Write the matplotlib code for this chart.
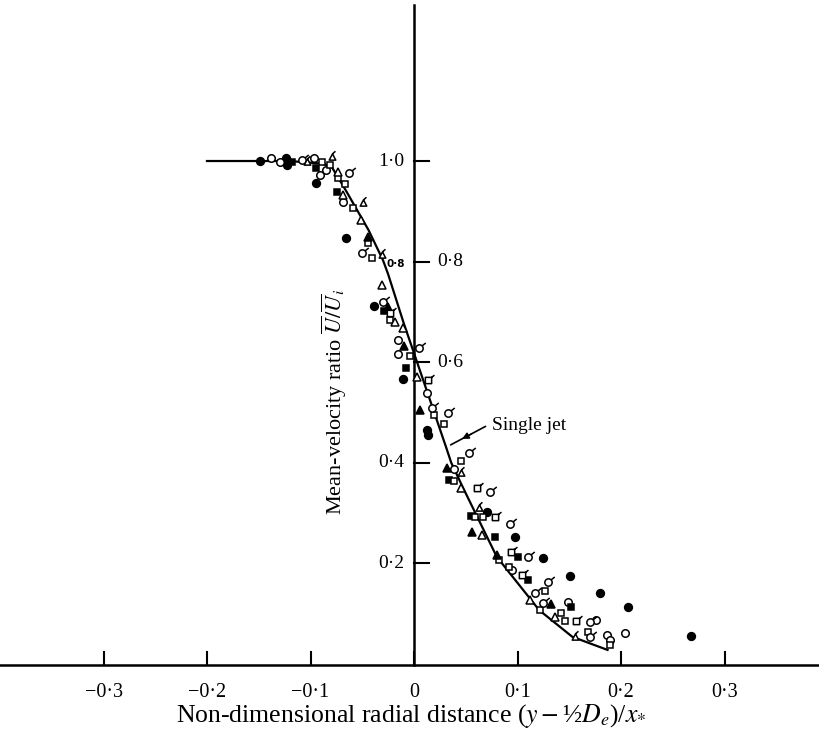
import matplotlib
matplotlib.use("Agg")
import matplotlib.pyplot as plt
import numpy as np
from matplotlib.path import Path

plt.rcParams['font.family'] = ['Liberation Serif', 'DejaVu Serif']
plt.rcParams['mathtext.fontset'] = 'stix'

# solid curve: single jet
curve_x = [-0.20, -0.16, -0.12, -0.09, -0.08, -0.066, -0.044, -0.030, -0.025, -0.010,
           0.0, 0.031, 0.036, 0.047, 0.080, 0.121, 0.153, 0.187]
curve_u = [1.0, 1.0, 1.0, 0.995, 0.99, 0.942, 0.863, 0.803, 0.775, 0.678,
           0.618, 0.431, 0.400, 0.352, 0.213, 0.107, 0.054, 0.028]

# measured points, one pair of lists per symbol
fcirc_x = [-0.149, -0.124, -0.123, -0.095, -0.066, -0.039, -0.011, 0.013, 0.014,
           0.071, 0.098, 0.125, 0.151, 0.180, 0.207, 0.268]
fcirc_u = [1.000, 1.006, 0.992, 0.956, 0.847, 0.712, 0.567, 0.465, 0.455,
           0.302, 0.252, 0.211, 0.175, 0.141, 0.113, 0.056]

ocirc_x = [-0.138, -0.129, -0.097, -0.091, -0.085, -0.069, -0.015, -0.015, 0.013,
           0.039, 0.095, 0.149, 0.176, 0.186, 0.189, 0.204]
ocirc_u = [1.006, 0.998, 1.006, 0.972, 0.982, 0.918, 0.644, 0.616, 0.539,
           0.388, 0.187, 0.123, 0.087, 0.058, 0.048, 0.062]

fsq_x = [-0.118, -0.095, -0.074, -0.029, -0.008, 0.034, 0.055, 0.078, 0.100, 0.110, 0.152]
fsq_u = [0.998, 0.986, 0.938, 0.702, 0.588, 0.366, 0.294, 0.252, 0.213, 0.167, 0.113]

osq_x = [-0.089, -0.081, -0.073, -0.067, -0.059, -0.044, -0.041, -0.023, -0.004,
         0.019, 0.029, 0.045, 0.039, 0.059, 0.067, 0.082, 0.092, 0.127, 0.142,
         0.146, 0.168, 0.189, 0.122]
osq_u = [0.998, 0.992, 0.966, 0.954, 0.906, 0.837, 0.807, 0.684, 0.612,
         0.495, 0.477, 0.404, 0.364, 0.292, 0.292, 0.207, 0.193, 0.145, 0.101,
         0.085, 0.064, 0.038, 0.107]

ftri_x = [-0.044, -0.025, -0.010, 0.006, 0.032, 0.056, 0.080, 0.132]
ftri_u = [0.849, 0.710, 0.632, 0.505, 0.390, 0.262, 0.217, 0.119]

otri_x = [-0.073, -0.069, -0.051, -0.031, -0.018, -0.011, 0.003, 0.045, 0.066, 0.136, 0.112]
otri_u = [0.978, 0.932, 0.883, 0.753, 0.680, 0.668, 0.571, 0.350, 0.256, 0.093, 0.127]

flcirc_x = [-0.108, -0.063, -0.050, -0.030, 0.005, 0.017, 0.033, 0.053, 0.073,
            0.093, 0.110, 0.129, 0.125, 0.170, 0.170, 0.117]
flcirc_u = [1.002, 0.976, 0.817, 0.720, 0.628, 0.509, 0.499, 0.419, 0.342,
            0.278, 0.213, 0.163, 0.121, 0.083, 0.054, 0.141]

flsq_x = [0.061, 0.078, 0.094, 0.014, -0.023, 0.157, 0.104]
flsq_u = [0.350, 0.292, 0.223, 0.565, 0.698, 0.085, 0.177]

fltri_x = [-0.103, -0.079, -0.049, -0.031, 0.045, 0.063, 0.156]
fltri_u = [0.998, 1.008, 0.916, 0.813, 0.380, 0.310, 0.054]

xticks = [-0.3, -0.2, -0.1, 0.0, 0.1, 0.2, 0.3]
xtick_labels = ['\u22120\u00b73', '\u22120\u00b72', '\u22120\u00b71', '0',
                '0\u00b71', '0\u00b72', '0\u00b73']
yticks = [1.0, 0.8, 0.6, 0.4, 0.2]
ytick_labels = ['1\u00b70', '0\u00b78', '0\u00b76', '0\u00b74', '0\u00b72']
ytick_side = ['left', 'right', 'right', 'left', 'left']


def flagged(base, start, end):
    """Marker made of a closed shape plus a short tail stroke."""
    tail = Path([start, end], [Path.MOVETO, Path.LINETO])
    return Path.make_compound_path(base, tail)


circ_path = Path.unit_circle()
sq_path = Path([(-1, -1), (1, -1), (1, 1), (-1, 1), (-1, -1)],
               [Path.MOVETO, Path.LINETO, Path.LINETO, Path.LINETO, Path.CLOSEPOLY])
tri_path = Path([(0, 1.1), (-1, -0.8), (1, -0.8), (0, 1.1)],
                [Path.MOVETO, Path.LINETO, Path.LINETO, Path.CLOSEPOLY])
flag_circ = flagged(circ_path, (0.7, 0.7), (1.7, 1.5))
flag_sq = flagged(sq_path, (1, 1), (1.9, 1.7))
flag_tri = flagged(tri_path, (0, 1.1), (0.9, 1.9))

fig = plt.figure(figsize=(8.19, 7.31), dpi=100)
ax = fig.add_axes([0, 0, 1, 1])
ax.set_xlim(-0.400, 0.3913)
ax.set_ylim(-0.1332, 1.3201)
ax.set_axis_off()

# axes drawn through the origin
ax.plot([-0.400, 0.3913], [-0.002, -0.002], color='black', lw=1.8, zorder=1)
ax.plot([0, 0], [-0.002, 1.310], color='black', lw=1.8, zorder=1)
for t in xticks:
    ax.plot([t, t], [0, 0.024], color='black', lw=1.5, zorder=1)
for t in yticks:
    ax.plot([0, 0.0145], [t, t], color='black', lw=1.5, zorder=1)

for t, lab in zip(xticks, xtick_labels):
    ax.text(t, -0.057, lab, ha='center', va='center', fontsize=14.5)
for t, lab, side in zip(yticks, ytick_labels, ytick_side):
    if side == 'left':
        ax.text(-0.022, t, lab, ha='center', va='center', fontsize=14)
    else:
        ax.text(0.035, t, lab, ha='center', va='center', fontsize=14)
ax.text(-0.018, 0.795, '0\u00b78', ha='center', va='center', fontsize=7.5,
        family='DejaVu Sans', fontweight='bold')

ax.plot(curve_x, curve_u, color='black', lw=1.6, zorder=2)

ec = dict(color='black', linestyle='none', mec='black', mew=1.1, zorder=3)
ax.plot(fcirc_x, fcirc_u, marker='o', ms=5.6, mfc='black', **ec)
ax.plot(ocirc_x, ocirc_u, marker='o', ms=5.4, mfc='white', **ec)
ax.plot(fsq_x, fsq_u, marker='s', ms=4.6, mfc='black', **ec)
ax.plot(osq_x, osq_u, marker='s', ms=4.6, mfc='white', **ec)
ax.plot(ftri_x, ftri_u, marker='^', ms=5.8, mfc='black', **ec)
ax.plot(otri_x, otri_u, marker='^', ms=5.8, mfc='white', **ec)
ax.plot(flcirc_x, flcirc_u, marker=flag_circ, ms=9.0, mfc='white', **ec)
ax.plot(flsq_x, flsq_u, marker=flag_sq, ms=8.6, mfc='white', **ec)
ax.plot(fltri_x, fltri_u, marker=flag_tri, ms=9.0, mfc='white', **ec)

# annotation for the curve
ax.annotate('', xy=(0.033, 0.433), xytext=(0.0715, 0.475),
            arrowprops=dict(arrowstyle='-', lw=1.2, color='black'))
ax.annotate('', xy=(0.044, 0.445), xytext=(0.058, 0.460),
            arrowprops=dict(arrowstyle='-|>', lw=1.0, color='black', mutation_scale=10))
ax.text(0.075, 0.475, 'Single jet', ha='left', va='center', fontsize=14)

ax.text(-0.077, 0.522, r'Mean-velocity ratio $\overline{U}/\overline{U}_i$',
        rotation=90, ha='center', va='center', fontsize=16)
ax.text(-0.003, -0.104, 'Non-dimensional radial distance ($y-$\u00bd$D_e$)/$x_{*}$',
        ha='center', va='center', fontsize=18.5)

fig.savefig('out.png', dpi=100)
